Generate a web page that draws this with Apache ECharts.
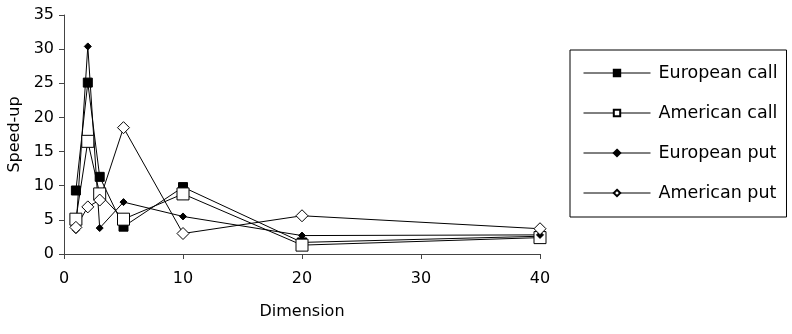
<!DOCTYPE html>
<html><head><meta charset="utf-8">
<script src="https://cdn.jsdelivr.net/npm/echarts@6/dist/echarts.min.js"></script>
<style>html,body{margin:0;padding:0;background:#fff}#c{width:792px;height:334px}</style>
</head><body><div id="c"></div>
<script>
const dims = [1, 2, 3, 5, 10, 20, 40];
const europeanCall = [9.3, 25.1, 11.3, 4.0, 9.8, 1.7, 2.6];
const americanCall = [5.1, 16.5, 8.8, 5.1, 8.8, 1.3, 2.4];
const europeanPut = [3.5, 30.4, 3.8, 7.6, 5.5, 2.7, 2.8];
const americanPut = [3.9, 6.9, 7.9, 18.5, 3.0, 5.6, 3.7];
const seriesNames = ['European call', 'American call', 'European put', 'American put'];

const pair = arr => dims.map((d, i) => [d, arr[i]]);
const font = 'DejaVu Sans';
const chart = echarts.init(document.getElementById('c'), null, {renderer: 'canvas'});
const mk = (name, data, symbol, size, fill) => ({
  name, type: 'line', data: pair(data), symbol, symbolSize: size,
  lineStyle: {color: '#000', width: 1},
  itemStyle: {color: fill, borderColor: '#000', borderWidth: 1},
  emphasis: {disabled: true}, animation: false
});
chart.setOption({
  animation: false,
  textStyle: {fontFamily: font},
  grid: {left: 64, right: 252, top: 15, bottom: 80, containLabel: false, outerBoundsMode: 'none'},
  xAxis: {
    type: 'value', min: 0, max: 40, interval: 10,
    name: 'Dimension', nameLocation: 'middle', nameGap: 50,
    nameTextStyle: {fontSize: 16, color: '#000', fontFamily: font},
    axisLine: {lineStyle: {color: '#444'}},
    axisTick: {show: true, length: 5, lineStyle: {color: '#444'}},
    axisLabel: {fontSize: 16, color: '#000', margin: 17, fontFamily: font},
    splitLine: {show: false}
  },
  yAxis: {
    type: 'value', min: 0, max: 35, interval: 5,
    name: 'Speed-up', nameLocation: 'middle', nameGap: 39, nameRotate: 90,
    nameTextStyle: {fontSize: 16, color: '#000', fontFamily: font},
    axisLine: {show: true, lineStyle: {color: '#444'}},
    axisTick: {show: true, length: 5, lineStyle: {color: '#444'}},
    axisLabel: {fontSize: 16, color: '#000', margin: 10, fontFamily: font},
    splitLine: {show: false}
  },
  legend: {
    orient: 'vertical', left: 570, top: 50,
    data: seriesNames,
    borderColor: '#000', borderWidth: 1,
    padding: [14, 9, 15, 13],
    itemWidth: 67, itemHeight: 8, itemGap: 22,
    lineStyle: {width: 1, color: '#000'},
    textStyle: {fontSize: 17.5, color: '#000', fontFamily: font, padding: [0, 0, 0, 3]},
    selectedMode: false
  },
  series: [
    mk(seriesNames[0], europeanCall, 'rect', 9, '#000'),
    mk(seriesNames[1], americanCall, 'rect', 12, '#fff'),
    mk(seriesNames[2], europeanPut, 'diamond', 7, '#000'),
    mk(seriesNames[3], americanPut, 'diamond', 12, '#fff')
  ]
});
</script></body></html>
